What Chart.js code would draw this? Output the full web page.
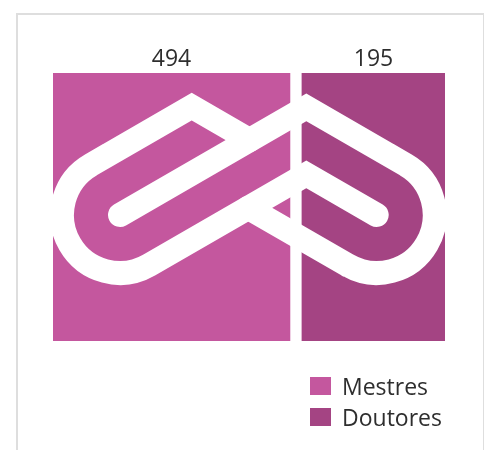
<!DOCTYPE html>
<html>
<head>
<meta charset="utf-8">
<script src="https://cdn.jsdelivr.net/npm/chart.js@4"></script>
<style>
  html, body { margin: 0; padding: 0; background: #fff; }
  #frame { position: absolute; left: 16px; top: 13px; width: 468px; height: 460px;
           border: 2px solid #dedede; border-right-width: 1px; box-sizing: border-box; }
  #wrap { position: absolute; left: 0; top: 0; width: 490px; height: 450px; }
</style>
</head>
<body>
<div id="frame"></div>
<div id="wrap"><canvas id="chart"></canvas></div>
<script>
// data
const categories = ['Total'];
const seriesNames = ['Mestres', 'Doutores'];
const mestres = [494];
const doutores = [195];
const seriesColors = ['#C4579E', '#A44483'];

const textColor = '#2e2e2e';
const labelFont = '23px "Open Sans"';

// value labels above each bar
const valueLabels = {
    id: 'valueLabels',
    afterDatasetsDraw(chart) {
        const ctx = chart.ctx;
        ctx.save();
        ctx.font = labelFont;
        ctx.fillStyle = textColor;
        ctx.textAlign = 'center';
        ctx.textBaseline = 'alphabetic';
        chart.data.datasets.forEach((ds, i) => {
            chart.getDatasetMeta(i).data.forEach((bar, j) => {
                const left = Math.max(Math.min(bar.base, bar.x), chart.chartArea.left);
                const right = Math.max(bar.base, bar.x);
                const gap = i > 0 ? 12 : 0;
                const cx = (left + gap + right) / 2;
                ctx.fillText(String(ds.data[j]), cx, bar.y - bar.height / 2 - 7);
            });
        });
        ctx.restore();
    }
};

// white logo drawn over the bars (picture fill of the original)
const logo = {
    id: 'logo',
    afterDatasetsDraw(chart) {
        const a = chart.chartArea;
        const k = a.height / 268;
        const mx = a.left + 195.3 * k, my = a.top + 142 * k;
        const P = (dx, dy) => [mx + dx * k, my + dy * k];
        const ctx = chart.ctx;
        ctx.save();
        ctx.beginPath();
        ctx.rect(a.left, a.top, a.right - a.left, a.bottom - a.top);
        ctx.clip();
        ctx.strokeStyle = '#ffffff';
        ctx.lineWidth = 24 * k;
        ctx.lineJoin = 'miter';
        ctx.lineCap = 'round';
        const R = 58 * k;
        const CL = P(-128.3, 0), CR = P(128.4, 0);

        ctx.beginPath();
        ctx.moveTo(...CL);
        ctx.lineTo(...P(58, -107.6));
        ctx.lineTo(...P(157.4, -50.2));
        ctx.arc(CR[0], CR[1], R, -Math.PI / 3, 2 * Math.PI / 3, false);
        ctx.lineTo(...P(0, -7.2));
        ctx.stroke();

        ctx.beginPath();
        ctx.moveTo(...P(1.3, -74.9));
        ctx.lineTo(...P(-56.6, -108.3));
        ctx.lineTo(...P(-157.3, -50.2));
        ctx.arc(CL[0], CL[1], R, 4 * Math.PI / 3, Math.PI / 3, true);
        ctx.lineTo(...P(58, -40.6));
        ctx.lineTo(...CR);
        ctx.stroke();
        ctx.restore();
    }
};

// legend bottom right
const sideLegend = {
    id: 'sideLegend',
    afterDraw(chart) {
        const ctx = chart.ctx;
        ctx.save();
        ctx.font = labelFont;
        ctx.textBaseline = 'alphabetic';
        ctx.textAlign = 'left';
        chart.data.datasets.forEach((ds, i) => {
            const y = 377 + i * 31;
            ctx.fillStyle = ds.backgroundColor;
            ctx.fillRect(310, y, 21, 18);
            ctx.fillStyle = textColor;
            ctx.fillText(ds.label, 342, y + 18);
        });
        ctx.restore();
    }
};

new Chart(document.getElementById('chart'), {
    type: 'bar',
    data: {
        labels: categories,
        datasets: [
            { label: seriesNames[0], data: mestres, backgroundColor: seriesColors[0] },
            { label: seriesNames[1], data: doutores, backgroundColor: seriesColors[1],
              borderColor: '#ffffff', borderWidth: { left: 12, top: 0, right: 0, bottom: 0 },
              borderSkipped: false }
        ]
    },
    options: {
        indexAxis: 'y',
        responsive: true,
        maintainAspectRatio: false,
        animation: false,
        layout: { padding: { left: 53, right: 45, top: 73, bottom: 109 } },
        datasets: { bar: { categoryPercentage: 1, barPercentage: 1 } },
        scales: {
            x: { stacked: true, display: false, min: 196, max: 689 },
            y: { stacked: true, display: false }
        },
        plugins: { legend: { display: false }, tooltip: { enabled: false } }
    },
    plugins: [valueLabels, logo, sideLegend]
});
</script>
</body>
</html>
